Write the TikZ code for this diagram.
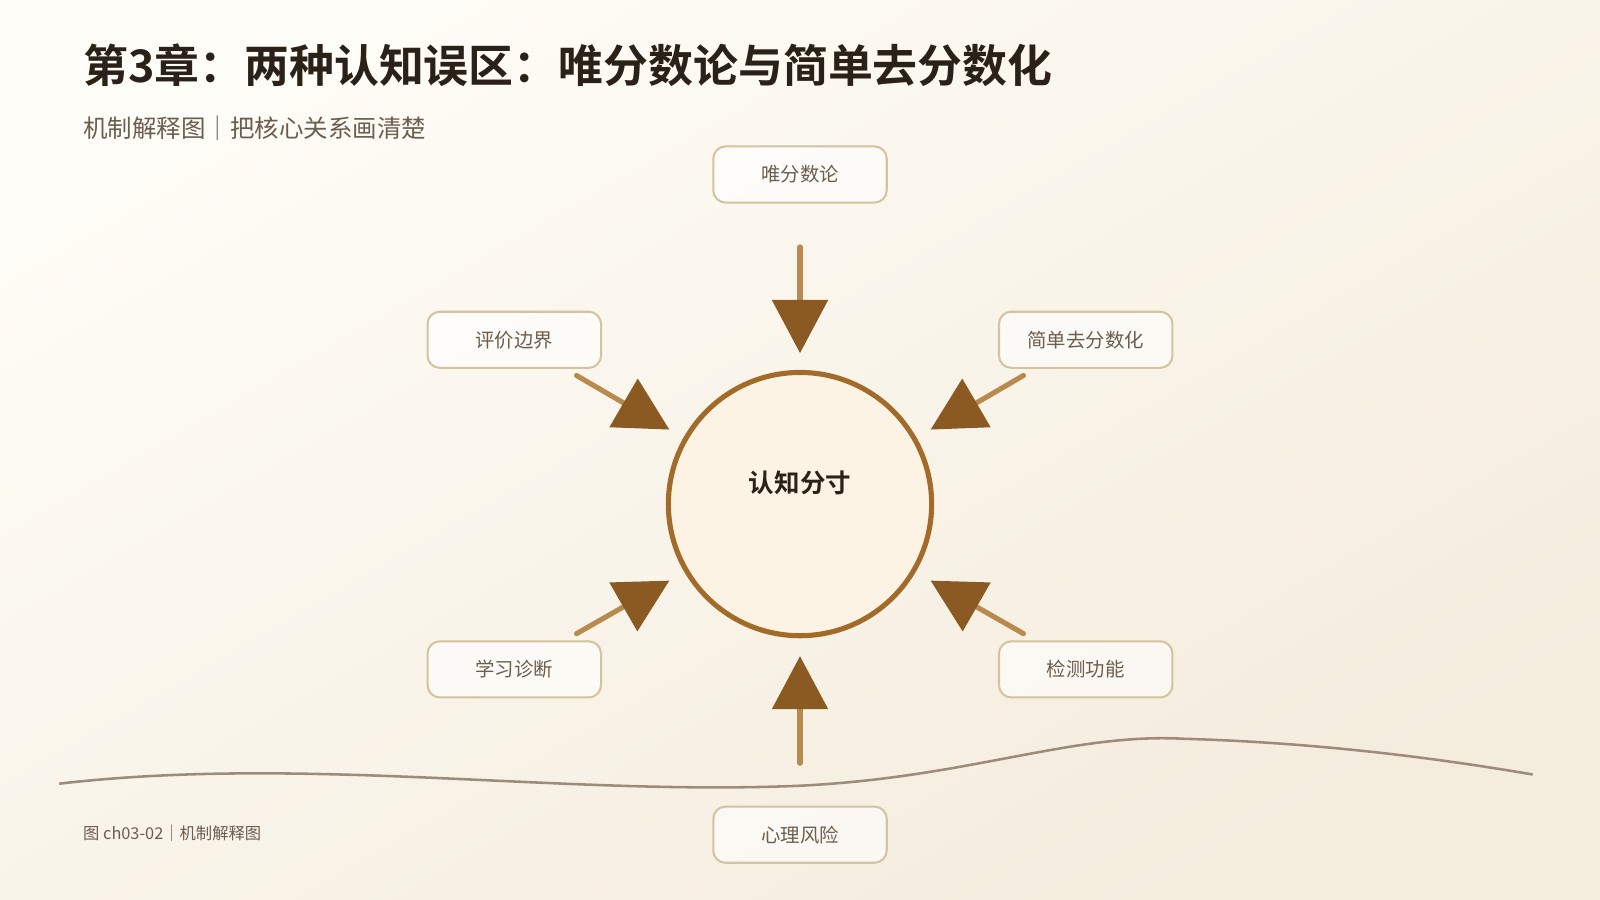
\documentclass[tikz,border=0pt]{standalone}
\usepackage{fontspec}
\setmainfont{Noto Sans CJK SC}
\newfontfamily\cjkb{Noto Sans CJK SC Bold}
\usetikzlibrary{arrows.meta}
\definecolor{bgA}{HTML}{FEFCF6}
\definecolor{bgB}{HTML}{F4ECDD}
\definecolor{ring}{HTML}{A26B2A}
\definecolor{cfill}{HTML}{FDF3E4}
\definecolor{boxline}{HTML}{D3C39E}
\definecolor{shaft}{HTML}{B98A50}
\definecolor{head}{HTML}{8B5A22}
\definecolor{wave}{HTML}{9E8C7A}
\definecolor{ttl}{HTML}{2A2118}
\definecolor{sub}{HTML}{6B5E50}
\begin{document}
\begin{tikzpicture}[x=1pt,y=-1pt,
  lbl/.style={draw=boxline,line width=2pt,rounded corners=12pt,fill=white,fill opacity=0.6,text opacity=1,minimum width=170pt,minimum height=55pt,text=sub,font=\fontsize{19}{22}\selectfont},
  arr/.style={draw=shaft,line width=5pt,-{Triangle[length=52pt,width=54pt,color=head]}}]
\shade[top color=bgA,bottom color=bgB,shading angle=30] (0,0) rectangle (1568,882);
\useasboundingbox (0,0) rectangle (1568,882);
\node[anchor=west,text=ttl,font=\cjkb\fontsize{44}{50}\selectfont] (title) at (78,64) {第3章：两种认知误区：唯分数论与简单去分数化};
\node[anchor=west,text=sub,font=\fontsize{24}{28}\selectfont] (subt) at (78,126) {机制解释图｜把核心关系画清楚};
\draw[wave,line width=2.5pt] (58,768) .. controls (300,740) and (550,780) .. (784,770) .. controls (950,762) and (1050,718) .. (1160,724) .. controls (1300,728) and (1420,745) .. (1502,759);
\node[circle,draw=ring,line width=5pt,fill=cfill,minimum size=258pt] (c) at (784,494) {};
\node[text=ttl,font=\cjkb\fontsize{25}{28}\selectfont] (ct) at (784,473) {认知分寸};
\node[lbl] (n1) at (784,171) {唯分数论};
\node[lbl] (n2) at (504,333) {评价边界};
\node[lbl] (n3) at (1064,333) {简单去分数化};
\node[lbl] (n4) at (504,656) {学习诊断};
\node[lbl] (n5) at (1064,656) {检测功能};
\node[lbl] (n6) at (784,818) {心理风险};
\coordinate (s1) at (784,242); \coordinate (e1) at (784,346);
\coordinate (s2) at (565,368); \coordinate (e2) at (656,421);
\coordinate (s3) at (1003,368); \coordinate (e3) at (912,421);
\coordinate (s4) at (565,621); \coordinate (e4) at (656,569);
\coordinate (s5) at (1003,621); \coordinate (e5) at (912,569);
\coordinate (s6) at (784,748); \coordinate (e6) at (784,643);
\foreach \i in {1,...,6} {\draw[arr,line cap=round] (s\i) -- (e\i);}
\node[anchor=west,text=sub,font=\fontsize{16}{19}\selectfont] (foot) at (78,817) {图 ch03-02｜机制解释图};
\end{tikzpicture}
\end{document}
